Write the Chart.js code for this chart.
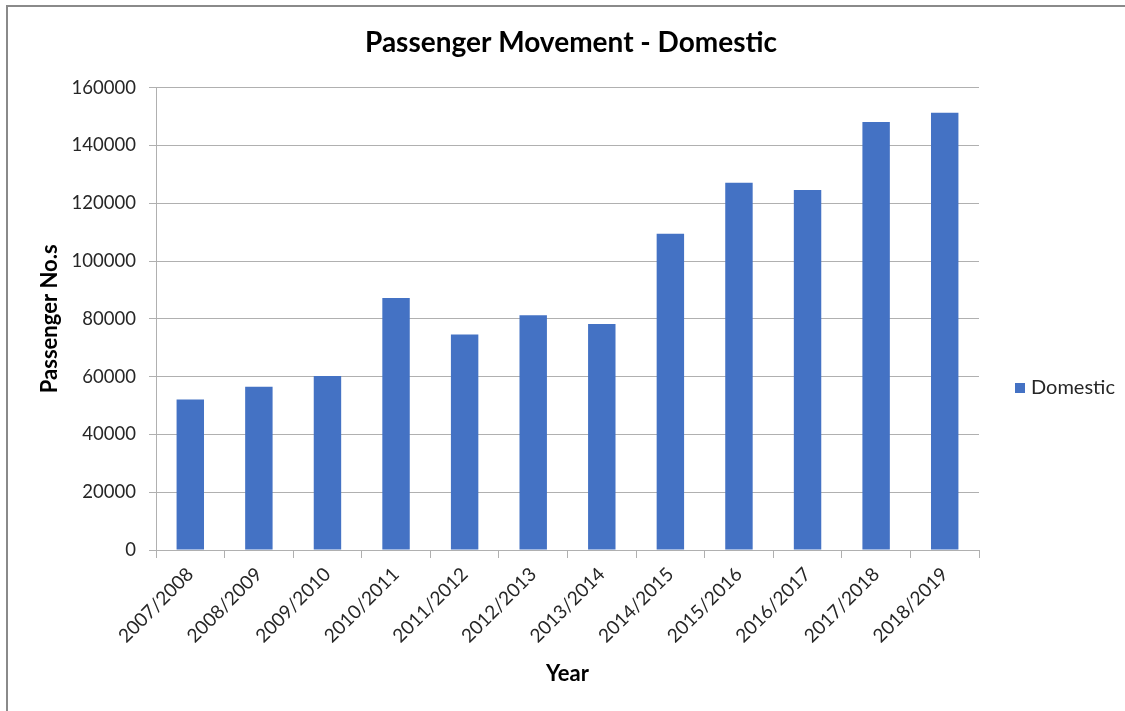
<!DOCTYPE html>
<html>
<head>
<meta charset="utf-8">
<script src="https://cdn.jsdelivr.net/npm/chart.js@4.4.0/dist/chart.umd.min.js"></script>
<style>
  html, body { margin: 0; padding: 0; background: #fff; }
  #wrap { position: relative; width: 1125px; height: 711px; overflow: hidden; }
  #frame { position: absolute; left: 6px; top: 5px; width: 1200px; height: 800px; border-left: 2px solid #8a8a8a; border-top: 2px solid #8a8a8a; pointer-events: none; }
  canvas { position: absolute; left: 0; top: 0; }
</style>
</head>
<body>
<div id="wrap">
  <canvas id="c" width="1125" height="711"></canvas>
  <div id="frame"></div>
</div>
<script>
const categories = ["2007/2008","2008/2009","2009/2010","2010/2011","2011/2012","2012/2013","2013/2014","2014/2015","2015/2016","2016/2017","2017/2018","2018/2019"];
const domestic = [52100, 56500, 60200, 87200, 74600, 81200, 78200, 109400, 127100, 124600, 148100, 151300];
const yTicks = [0, 20000, 40000, 60000, 80000, 100000, 120000, 140000, 160000];

const FONT = "Lato, 'Open Sans', sans-serif";
const GRID = '#b0b0b0';

const legendPlugin = {
  id: 'customLegend',
  afterDraw(chart) {
    const ctx = chart.ctx;
    const ds = chart.data.datasets[0];
    ctx.save();
    ctx.fillStyle = ds.backgroundColor;
    ctx.fillRect(1015, 383, 10, 10);
    ctx.fillStyle = '#262626';
    ctx.font = "20px " + FONT;
    ctx.textBaseline = 'middle';
    ctx.textAlign = 'left';
    ctx.fillText(ds.label, 1031, 388);
    ctx.restore();
  }
};

new Chart(document.getElementById('c'), {
  type: 'bar',
  data: {
    labels: categories,
    datasets: [{
      label: 'Domestic',
      data: domestic,
      backgroundColor: '#4472C4',
      borderWidth: 0,
      barPercentage: 0.4,
      categoryPercentage: 1.0,
      yAxisID: 'y'
    }]
  },
  options: {
    responsive: false,
    animation: false,
    devicePixelRatio: 1,
    layout: { padding: { left: 17, right: 0, top: 0, bottom: 0 } },
    plugins: {
      legend: { display: false },
      tooltip: { enabled: false },
      title: {
        display: true,
        text: 'Passenger Movement - Domestic',
        color: '#000',
        font: { family: FONT, size: 28, weight: 'bold', lineHeight: 1.2 },
        padding: { top: 26, bottom: 28 }
      }
    },
    scales: {
      x: {
        grid: { display: true, drawOnChartArea: false, drawTicks: true, tickLength: 8, color: GRID, offset: true },
        border: { display: true, color: GRID, width: 1 },
        ticks: {
          color: '#262626',
          font: { family: FONT, size: 19 },
          minRotation: 45, maxRotation: 45,
          padding: 5,
          autoSkip: false
        },
        title: {
          display: true, text: 'Year', color: '#000',
          font: { family: FONT, size: 22, weight: 'bold', lineHeight: 1.2 },
          padding: { top: 0, bottom: 24 }
        },
        afterFit(scale) { scale.height = 161; }
      },
      y: {
        position: 'left',
        min: 0, max: 160000,
        afterBuildTicks(scale) { scale.ticks = yTicks.map(v => ({ value: v })); },
        grid: { color: GRID, tickLength: 7, drawTicks: true },
        border: { display: true, color: GRID, width: 1 },
        ticks: {
          color: '#262626',
          font: { family: FONT, size: 18.5 },
          padding: 13,
          callback: (v) => String(v)
        },
        title: {
          display: true, text: 'Passenger No.s', color: '#000',
          font: { family: FONT, size: 22, weight: 'bold', lineHeight: 1.2 },
          padding: { top: 20, bottom: 0 }
        },
        afterFit(scale) { scale.width = 139; }
      },
      legendSpace: {
        type: 'linear',
        position: 'right',
        display: true,
        min: 0, max: 1,
        grid: { display: false, drawOnChartArea: false, drawTicks: false },
        border: { display: false },
        ticks: { display: false },
        afterFit(scale) { scale.width = 146; }
      }
    }
  },
  plugins: [legendPlugin]
});
</script>
</body>
</html>
